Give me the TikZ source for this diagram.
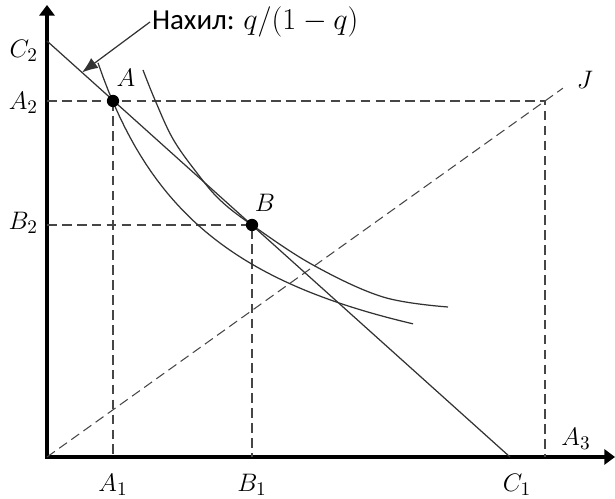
\documentclass[tikz,border=0pt]{standalone}
\usepackage{amsmath}
\usepackage{fontspec}
\newfontfamily\labelfont{Carlito}
\usepackage{tikz}
\usetikzlibrary{arrows.meta, calc}
\definecolor{guidegray}{RGB}{70, 70, 70}
\definecolor{curvegray}{RGB}{50, 50, 50}

\begin{document}
\begin{tikzpicture}[x=0.02cm, y=0.02cm,
    axis/.style={line width=2pt, line join=miter,
      {Triangle[length=6pt,width=8.5pt]}-{Triangle[length=6pt,width=8.5pt]}},
    guide/.style={line width=0.6pt, guidegray, dash pattern=on 5.5pt off 3pt},
    curve/.style={line width=0.7pt, curvegray},
    dot/.style={circle, fill=black, inner sep=0pt, minimum size=7pt},
    lbl/.style={font=\fontsize{15}{17}\selectfont, inner sep=1pt}]
  \useasboundingbox (-47,-42) rectangle (568,457);
  % Key points
  \coordinate (O)    at (0,0);
  \coordinate (Ytop) at (0,452);
  \coordinate (Xend) at (568,0);
  \coordinate (C2)   at (0,416);
  \coordinate (C1)   at (463,0);
  \coordinate (A)    at (66,356);
  \coordinate (B)    at (205,232);
  \coordinate (K)    at (498,356);
  \coordinate (Jend) at ($(O)!1.036!(K)$);
  \coordinate (T)    at ($(C2)!0.0756!(C1)$);
  % Axes
  \draw[axis] (Ytop) -- (O) -- (Xend);
  % Guide lines
  \draw[guide] (A -| O) -- (K) -- (K |- O);
  \draw[guide] (A) -- (A |- O);
  \draw[guide] (B -| O) -- (B) -- (B |- O);
  \draw[guide] (O) -- (Jend);
  % Budget line
  \draw[curve] (C2) -- (C1);
  % Indifference curves
  \draw[curve] plot[domain=51:366, samples=60] ({\x}, {45.338/((\x+73.5)/1000)+30});
  \draw[curve] plot[smooth, tension=0.6] coordinates
    {(96,387) (108,357) (126,318) (150,284) (173,257) (205,232) (266,192) (336,160) (401,150)};
  % Points
  \node[dot] (dotA) at (A) {};
  \node[dot] (dotB) at (B) {};
  % Labels
  \node[lbl] (labA)  at (79,379) {$A$};
  \node[lbl] (labB)  at (218,254) {$B$};
  \node[lbl] (labA1) at (66,-28) {$A_1$};
  \node[lbl] (labB1) at (205,-28) {$B_1$};
  \node[lbl] (labC1) at (470,-28) {$C_1$};
  \node[lbl] (labA3) at (529,18) {$A_3$};
  \node[lbl, anchor=east] (labC2) at (-7,406) {$C_2$};
  \node[lbl, anchor=east] (labA2) at (-7,354) {$A_2$};
  \node[lbl, anchor=east] (labB2) at (-7,234) {$B_2$};
  \node[lbl] (labJ)  at (538,377) {$J$};
  % Slope note
  \node[lbl, anchor=west, font=\labelfont\fontsize{16.5}{19}\selectfont] (slope) at (103,435)
    {Нахил: $q/(1-q)$};
  \draw[curve, -{Latex[length=9pt,width=7pt]}] (slope.west) -- (T);
\end{tikzpicture}
\end{document}
